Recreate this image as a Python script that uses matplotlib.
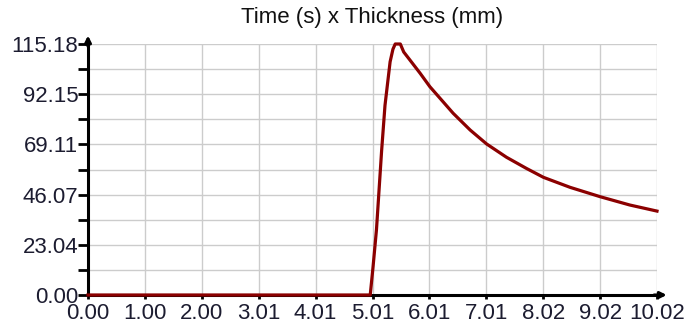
import numpy as np
import matplotlib
matplotlib.use("Agg")
import matplotlib.pyplot as plt

plt.rcParams["font.family"] = ["Liberation Sans", "DejaVu Sans"]

time_s = [0.00, 4.97, 5.02, 5.08, 5.17, 5.23, 5.32, 5.37, 5.41, 5.50,
          5.56, 5.67, 5.85, 6.02, 6.43, 6.73, 7.02, 7.37, 7.72, 8.02,
          8.49, 9.02, 9.54, 10.02]
thickness_mm = [0.0, 0.0, 13.0, 30.0, 66.0, 87.0, 107.0, 112.8, 115.18, 115.18,
                111.5, 107.8, 101.7, 95.6, 83.4, 75.7, 69.3, 63.2, 58.1, 54.0,
                49.4, 45.1, 41.3, 38.5]

x_max = 10.02
y_max = 115.18
x_ticks = np.arange(11) * x_max / 10
x_labels = ["0.00", "1.00", "2.00", "3.01", "4.01", "5.01", "6.01", "7.01", "8.02", "9.02", "10.02"]
y_ticks = np.arange(6) * y_max / 5
y_labels = ["0.00", "23.04", "46.07", "69.11", "92.15", "115.18"]

fig = plt.figure(figsize=(6.89, 3.27), dpi=100)
ax = fig.add_axes([88 / 689, 1 - 295 / 327, (657 - 88) / 689, (295 - 44) / 327])

ax.set_xlim(0, x_max)
ax.set_ylim(0, y_max)

# grid: vertical at majors, horizontal at majors and halves
ax.set_xticks(x_ticks)
ax.set_xticklabels(x_labels)
ax.set_yticks(y_ticks)
ax.set_yticklabels(y_labels)
ax.set_yticks(np.arange(11) * y_max / 10, minor=True)
ax.grid(True, which="major", color="#cccccc", linewidth=1)
ax.grid(True, which="minor", axis="y", color="#cccccc", linewidth=1)
ax.set_axisbelow(True)

ax.plot(time_s, thickness_mm, color="#8b0000", linewidth=2.3, clip_on=False, zorder=5)

for s in ["top", "right"]:
    ax.spines[s].set_visible(False)
ax.spines["left"].set_linewidth(2.2)
ax.spines["bottom"].set_linewidth(2.2)

ax.tick_params(axis="y", which="both", direction="out", length=7, width=2,
               labelsize=16, pad=0, labelcolor="#1c1c30")
ax.tick_params(axis="x", which="major", direction="out", length=3, width=2,
               labelsize=16, pad=3, labelcolor="#1c1c30")
for lbl in ax.get_yticklabels():
    lbl.set_va("center_baseline")

# arrow heads on the axes
ax.annotate("", xy=(0, 1.045), xytext=(0, 0.98), xycoords="axes fraction",
            arrowprops=dict(arrowstyle="-|>", color="black", lw=2.2,
                            mutation_scale=9), annotation_clip=False)
ax.annotate("", xy=(1.022, 0), xytext=(0.99, 0), xycoords="axes fraction",
            arrowprops=dict(arrowstyle="-|>", color="black", lw=2.2,
                            mutation_scale=9), annotation_clip=False)

fig.text(372 / 689, 1 - 18 / 327, "Time (s) x Thickness (mm)", ha="center",
         va="center", fontsize=16, color="#111111")

fig.savefig("out.png", dpi=100)
plt.close(fig)
